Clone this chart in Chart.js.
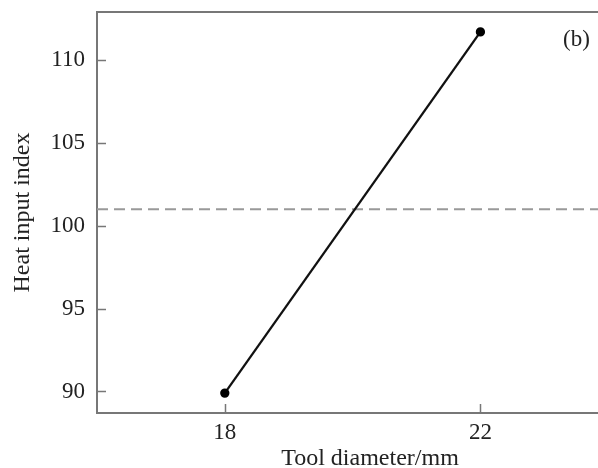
<!DOCTYPE html>
<html>
<head>
<meta charset="utf-8">
<script src="https://cdn.jsdelivr.net/npm/chart.js@4"></script>
<style>
  html, body { margin: 0; padding: 0; background: #fff; }
  #wrap { width: 598px; height: 468px; }
</style>
</head>
<body>
<div id="wrap"><canvas id="chart" width="598" height="468"></canvas></div>
<script>
// data
const toolDiameter = [18, 22];
const heatInput    = [89.9, 111.7];
const refLevel     = 101;
const xRange       = [16, 23.84];
const yRange       = [88.7, 112.9];
const xTickValues  = [18, 22];
const yTickValues  = [90, 95, 100, 105, 110];

const serif = "'Liberation Serif', 'DejaVu Serif', serif";
const axisGrey = '#777';

// inward ticks, top border, panel label, x title
const decor = {
  id: 'decor',
  afterDraw(chart) {
    const { ctx, chartArea: a, scales } = chart;
    ctx.save();
    ctx.strokeStyle = axisGrey;
    ctx.lineWidth = 1.5;
    yTickValues.forEach(v => {
      const y = Math.round(scales.y.getPixelForValue(v)) + 0.5;
      ctx.beginPath(); ctx.moveTo(a.left, y); ctx.lineTo(a.left + 9, y); ctx.stroke();
    });
    xTickValues.forEach(v => {
      const x = Math.round(scales.x.getPixelForValue(v)) + 0.5;
      ctx.beginPath(); ctx.moveTo(x, a.bottom); ctx.lineTo(x, a.bottom - 9); ctx.stroke();
    });
    ctx.lineWidth = 2;
    ctx.beginPath(); ctx.moveTo(a.left, a.top); ctx.lineTo(a.right, a.top); ctx.stroke();

    ctx.fillStyle = '#222';
    ctx.font = '23px ' + serif;
    ctx.textAlign = 'left';
    ctx.textBaseline = 'middle';
    ctx.fillText('(b)', 563, 40);

    ctx.font = '24px ' + serif;
    ctx.textAlign = 'center';
    ctx.textBaseline = 'alphabetic';
    ctx.fillText('Tool diameter/mm', 370, 465);
    ctx.restore();
  }
};

const noPad = s => { s.paddingLeft = 0; s.paddingRight = 0; s.paddingTop = 0; s.paddingBottom = 0; };

new Chart(document.getElementById('chart').getContext('2d'), {
  type: 'scatter',
  data: {
    datasets: [
      {
        label: 'Heat input index',
        data: toolDiameter.map((d, i) => ({ x: d, y: heatInput[i] })),
        showLine: true, borderColor: '#111', borderWidth: 2.3,
        pointRadius: 3.5, pointBackgroundColor: '#000', pointBorderColor: '#000'
      },
      {
        label: 'Reference',
        data: xRange.map(x => ({ x, y: refLevel })),
        showLine: true, borderColor: '#999', borderWidth: 2, borderDash: [11, 6],
        pointRadius: 0
      }
    ]
  },
  options: {
    responsive: false, animation: false,
    layout: { autoPadding: false, padding: { top: 12, right: 0, left: 0, bottom: 0 } },
    plugins: { legend: { display: false }, tooltip: { enabled: false } },
    scales: {
      x: {
        type: 'linear', min: xRange[0], max: xRange[1],
        afterBuildTicks: s => { s.ticks = xTickValues.map(v => ({ value: v })); },
        afterFit: s => { s.height = 55; noPad(s); },
        grid: { display: false, drawTicks: false },
        border: { color: axisGrey, width: 2 },
        ticks: { color: '#222', padding: 6, font: { family: serif, size: 23 } }
      },
      y: {
        min: yRange[0], max: yRange[1],
        afterBuildTicks: s => { s.ticks = yTickValues.map(v => ({ value: v })); },
        afterFit: s => { s.width = 97; noPad(s); },
        grid: { display: false, drawTicks: false },
        border: { color: axisGrey, width: 2 },
        ticks: { color: '#222', padding: 12, font: { family: serif, size: 23 } },
        title: { display: true, text: 'Heat input index', color: '#222', padding: 8,
                 font: { family: serif, size: 24 } }
      }
    }
  },
  plugins: [decor]
});
</script>
</body>
</html>
